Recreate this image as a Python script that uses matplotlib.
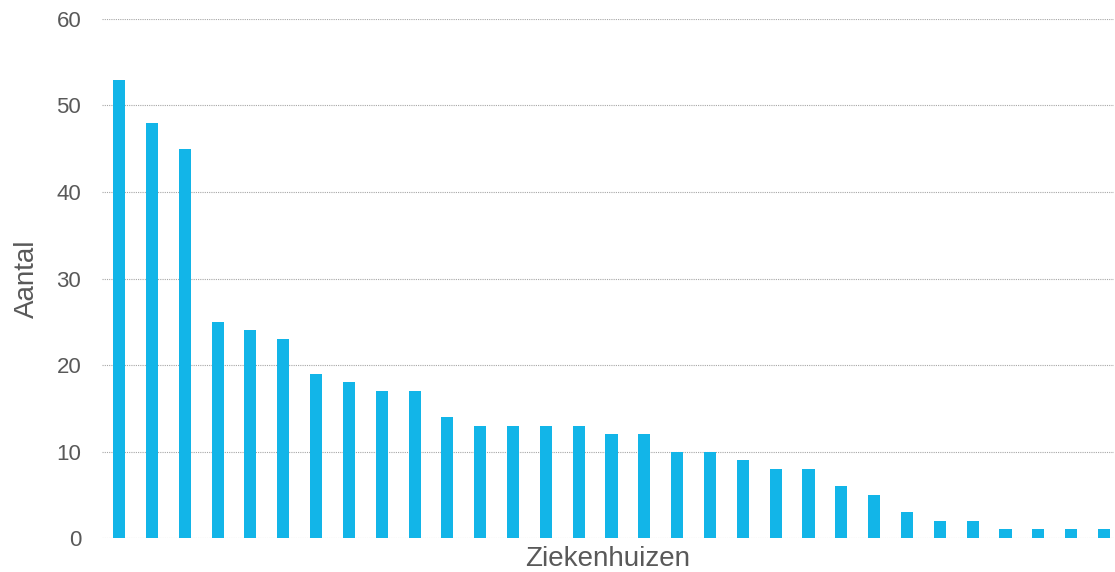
import matplotlib.pyplot as plt

# bars sorted high to low, one per hospital
values = [53, 48, 45, 25, 24, 23, 19, 18, 17, 17, 14, 13, 13, 13, 13, 12, 12,
          10, 10, 9, 8, 8, 6, 5, 3, 2, 2, 1, 1, 1, 1]
yticks = [0, 10, 20, 30, 40, 50, 60]

plt.rcParams['font.family'] = ['Liberation Sans', 'DejaVu Sans']

fig = plt.figure(figsize=(11.15, 5.72), dpi=100)
ax = fig.add_axes([0.0915, 0.0594, 0.9075, 0.9074])

x = list(range(len(values)))
ax.bar(x, values, width=0.37, color='#12B5E8', zorder=3)

ax.set_xlim(-0.52, 30.3)
ax.set_ylim(0, 60)
ax.set_yticks(yticks)
ax.set_xticks([])
ax.tick_params(axis='y', length=0, pad=15, labelsize=16, labelcolor='#595959')
ax.grid(axis='y', linestyle=(0, (1, 1)), color='#A6A6A6', linewidth=0.8, zorder=0)
for s in ax.spines.values():
    s.set_visible(False)

ax.set_ylabel('Aantal', fontsize=20, color='#595959', labelpad=12)
ax.set_xlabel('Ziekenhuizen', fontsize=20, color='#595959', labelpad=6)

fig.savefig('out.png', dpi=100)
plt.close(fig)
